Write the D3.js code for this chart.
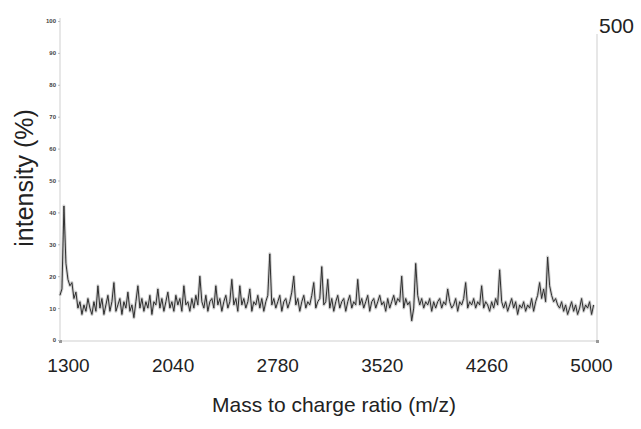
<!DOCTYPE html>
<html lang="en">
<head>
  <meta charset="utf-8">
  <title>Mass spectrum</title>
  <script src="https://d3js.org/d3.v7.min.js"></script>
  <style>
    body { margin: 0; background: #fff; }
    svg { display: block; font-family: "Liberation Sans", Arial, sans-serif; }
    .frame { stroke: #cfcfcf; stroke-width: 1; fill: none; }
    .ytick text { font-size: 6px; fill: #444; font-weight: bold; }
    .xtick text { font-size: 19px; fill: #222; }
  </style>
</head>
<body>
  <svg width="641" height="429"></svg>

  <script>
    // spectrum: evenly sampled, first point and step in m/z
    var mzStart = 1243, mzStep = 14.14;

    // relative intensity (%), 10 samples per row
    var intensity = [
      14, 16, 42, 24, 19, 17, 18, 13, 15, 10,
      12, 8, 11, 9, 13, 10, 8, 12, 9, 17,
      10, 13, 8, 11, 14, 9, 12, 18, 9, 11,
      13, 8, 12, 10, 15, 9, 11, 7, 12, 17,
      10, 13, 9, 12, 10, 14, 8, 12, 11, 16,
      10, 13, 9, 12, 15, 10, 12, 9, 14, 11,
      13, 9, 17, 11, 12, 9, 13, 10, 14, 11,
      20, 12, 10, 14, 9, 12, 13, 10, 17, 11,
      13, 9, 12, 14, 10, 12, 19, 11, 13, 9,
      17, 11, 13, 10, 12, 16, 9, 12, 11, 14,
      10, 13, 9, 12, 14, 27, 11, 13, 10, 12,
      14, 9, 12, 13, 10, 12, 15, 20, 11, 13,
      9, 12, 14, 10, 12, 11, 14, 18, 10, 12,
      13, 23, 11, 12, 19, 10, 13, 9, 12, 14,
      10, 12, 13, 9, 12, 14, 10, 12, 11, 19,
      11, 13, 10, 12, 14, 9, 12, 13, 10, 12,
      14, 11, 12, 9, 13, 10, 12, 14, 11, 13,
      12, 20, 10, 13, 11, 12, 6, 10, 24, 14,
      11, 13, 10, 12, 11, 13, 9, 12, 10, 12,
      13, 10, 12, 11, 16, 12, 10, 11, 13, 9,
      12, 11, 13, 18, 10, 12, 11, 13, 10, 12,
      11, 17, 10, 12, 11, 9, 12, 10, 13, 11,
      22, 12, 10, 12, 9, 11, 13, 10, 12, 8,
      11, 10, 12, 9, 11, 10, 13, 9, 12, 14,
      18, 13, 16, 12, 26, 17, 14, 12, 13, 11,
      10, 12, 9, 11, 8, 10, 12, 9, 11, 8,
      10, 13, 9, 11, 10, 12, 8, 11
    ];

    var xTicks = [1300, 2040, 2780, 3520, 4260, 5000];
    var yTicks = [0, 10, 20, 30, 40, 50, 60, 70, 80, 90, 100];

    var svg = d3.select("svg");

    var x = d3.scaleLinear().domain([1300, 5000]).range([68, 591]);
    var y = d3.scaleLinear().domain([0, 100]).range([340, 21]);

    var plotLeft = 60, plotRight = 597, plotBottom = 341;

    // soft blur so the noisy trace reads as a band like the scanned original
    svg.append("defs").append("filter")
      .attr("id", "soft")
      .attr("x", "-5%").attr("y", "-20%").attr("width", "110%").attr("height", "140%")
      .append("feGaussianBlur").attr("stdDeviation", 0.7);

    // frame: left axis, baseline, right edge
    svg.append("line").attr("class", "frame")
      .attr("x1", plotLeft).attr("x2", plotLeft).attr("y1", 18).attr("y2", plotBottom);
    svg.append("line").attr("class", "frame")
      .attr("x1", plotLeft).attr("x2", plotRight).attr("y1", plotBottom).attr("y2", plotBottom);
    svg.append("line").attr("class", "frame")
      .attr("x1", plotRight).attr("x2", plotRight).attr("y1", 34).attr("y2", plotBottom);

    svg.selectAll("rect.corner")
      .data([plotLeft, plotRight])
      .enter().append("rect")
      .attr("class", "corner")
      .attr("x", function (d) { return d - 1; })
      .attr("y", plotBottom - 1)
      .attr("width", 3).attr("height", 3)
      .attr("fill", "#999");

    // y axis
    var yAxis = svg.append("g")
      .attr("class", "ytick")
      .attr("transform", "translate(" + plotLeft + ",0)")
      .call(d3.axisLeft(y).tickValues(yTicks).tickSize(2).tickPadding(2));
    yAxis.select(".domain").remove();
    yAxis.selectAll(".tick line").attr("stroke", "#bbb");

    // x axis labels
    var xAxis = svg.append("g")
      .attr("class", "xtick")
      .attr("transform", "translate(0," + plotBottom + ")")
      .call(d3.axisBottom(x).tickValues(xTicks).tickFormat(d3.format("d")).tickSize(0).tickPadding(18));
    xAxis.select(".domain").remove();

    // trace
    var line = d3.line()
      .x(function (d, i) { return x(mzStart + i * mzStep); })
      .y(function (d) { return y(d); });

    svg.append("path")
      .datum(intensity)
      .attr("fill", "none")
      .attr("stroke", "#a0a0a0")
      .attr("stroke-width", 3)
      .attr("stroke-opacity", 0.5)
      .attr("stroke-linejoin", "round")
      .attr("filter", "url(#soft)")
      .attr("d", line);

    svg.append("path")
      .datum(intensity)
      .attr("fill", "none")
      .attr("stroke", "#2e2e2e")
      .attr("stroke-width", 1)
      .attr("stroke-linejoin", "round")
      .attr("filter", "url(#soft)")
      .attr("d", line);

    // texts
    svg.append("text")
      .attr("x", 599).attr("y", 33)
      .attr("font-size", 21).attr("fill", "#222")
      .text("500");

    svg.append("text")
      .attr("transform", "translate(33,178) rotate(-90)")
      .attr("text-anchor", "middle")
      .attr("font-size", 25).attr("fill", "#222")
      .text("intensity (%)");

    svg.append("text")
      .attr("x", 334).attr("y", 412)
      .attr("text-anchor", "middle")
      .attr("font-size", 21).attr("fill", "#222")
      .text("Mass to charge ratio (m/z)");
  </script>
</body>
</html>
